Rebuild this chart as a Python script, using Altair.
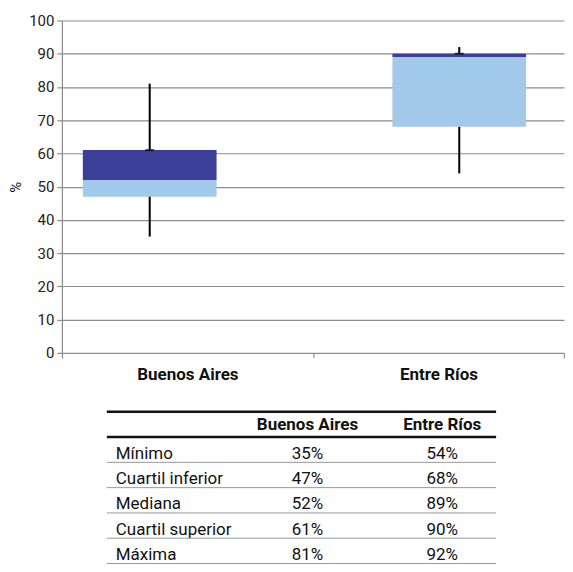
import altair as alt
import pandas as pd

# ---- data ----
categories = ["Buenos Aires", "Entre Ríos"]
stat_labels = ["Mínimo", "Cuartil inferior", "Mediana", "Cuartil superior", "Máxima"]
buenos_aires = [35, 47, 52, 61, 81]
entre_rios = [54, 68, 89, 90, 92]
y_ticks = list(range(0, 101, 10))

FONT = "Roboto, sans-serif"
DARK = "#3b3f98"
LIGHT = "#a2c8ea"
GRID = "#8c8c8c"

vals = [buenos_aires, entre_rios]
box_df = pd.DataFrame({
    "cat": categories,
    "mn": [v[0] for v in vals],
    "q1": [v[1] for v in vals],
    "med": [v[2] for v in vals],
    "q3": [v[3] for v in vals],
    "mx": [v[4] for v in vals],
})

box_x = alt.X("cat:N", scale=alt.Scale(domain=categories, paddingInner=0.568,
                                        paddingOuter=0.095, align=0.356), axis=None)
y_scale = alt.Scale(domain=[0, 100], nice=False)
y_axis = alt.Axis(values=y_ticks, title="%", grid=True, gridColor=GRID, gridWidth=1.2,
                  domainColor=GRID, domainWidth=1.2, tickColor=GRID, tickSize=5, tickWidth=1.2,
                  labelFont=FONT, labelFontSize=15, labelColor="#222", labelPadding=3,
                  labelOverlap=False,
                  titleFont=FONT, titleFontSize=15, titleFontWeight="normal", titleColor="#111",
                  titlePadding=5)


def yenc(field):
    return alt.Y(field, scale=y_scale, axis=y_axis)


base = alt.Chart(box_df)

axis_layer = base.mark_point(opacity=0).encode(
    x=alt.X("cat:N", scale=alt.Scale(domain=categories, paddingInner=0, paddingOuter=0),
            axis=alt.Axis(orient="bottom", title=None, labelAngle=0, tickBand="extent",
                          domain=False, tickColor=GRID, tickSize=5, tickWidth=1.2,
                          labelFont=FONT, labelFontSize=17, labelFontWeight="bold",
                          labelColor="#111", labelPadding=9)),
    y=yenc("med:Q"),
)

lower_box = base.mark_bar(color=LIGHT).encode(x=box_x, y=yenc("q1:Q"), y2="med:Q")
upper_box = base.mark_bar(color=DARK).encode(x=box_x, y=yenc("med:Q"), y2="q3:Q")
low_whisker = base.mark_rule(color="black", strokeWidth=2).encode(
    x=box_x, y=yenc("mn:Q"), y2="q1:Q")
high_whisker = base.mark_rule(color="black", strokeWidth=2).encode(
    x=box_x, y=yenc("q3:Q"), y2="mx:Q")
cap = base.mark_tick(color="black", orient="horizontal", size=9, thickness=2).encode(
    x=box_x, y=yenc("q3:Q"))

chart = alt.layer(axis_layer, lower_box, upper_box, low_whisker, high_whisker, cap).resolve_scale(
    x="independent").properties(width=503, height=333)

# ---- table ----
rows = ["hdr"] + stat_labels
cell_records = []
for c in categories:
    cell_records.append({"row": "hdr", "col": c, "text": c, "kind": "head"})
for i, lab in enumerate(stat_labels):
    cell_records.append({"row": lab, "col": "label", "text": lab, "kind": "label"})
    cell_records.append({"row": lab, "col": categories[0], "text": f"{buenos_aires[i]}%", "kind": "value"})
    cell_records.append({"row": lab, "col": categories[1], "text": f"{entre_rios[i]}%", "kind": "value"})
cells = pd.DataFrame(cell_records)

row_scale = alt.Scale(domain=rows, paddingInner=0, paddingOuter=0)
ty = alt.Y("row:N", scale=row_scale, axis=None)
col_x = alt.X("col:N", scale=alt.Scale(domain=categories, range=[246, 381], padding=0), axis=None)

tbase = alt.Chart(cells)
label_text = tbase.transform_filter("datum.kind == 'label'").mark_text(
    align="left", baseline="middle", dy=4, font=FONT, fontSize=17, color="#111").encode(
    x=alt.value(54), y=ty, text="text:N")
value_text = tbase.transform_filter("datum.kind == 'value'").mark_text(
    align="center", baseline="middle", dy=4, font=FONT, fontSize=17, color="#111").encode(
    x=col_x, y=ty, text="text:N")
head_text = tbase.transform_filter("datum.kind == 'head'").mark_text(
    align="center", baseline="middle", dy=1, font=FONT, fontSize=17, fontWeight="bold",
    color="#111").encode(x=col_x, y=ty, text="text:N")

line_df = pd.DataFrame({"row": rows})
top_line = alt.Chart(line_df).transform_filter("datum.row == 'hdr'").mark_rule(
    color="#111", strokeWidth=2.5).encode(
    y=alt.Y("row:N", scale=row_scale, axis=None, bandPosition=0),
    x=alt.value(45), x2=alt.value(435))
head_line = alt.Chart(line_df).transform_filter("datum.row == 'hdr'").mark_rule(
    color="#111", strokeWidth=2.5).encode(
    y=alt.Y("row:N", scale=row_scale, axis=None, bandPosition=1),
    x=alt.value(45), x2=alt.value(435))
row_lines = alt.Chart(line_df).transform_filter("datum.row != 'hdr'").mark_rule(
    color="#999", strokeWidth=1).encode(
    y=alt.Y("row:N", scale=row_scale, axis=None, bandPosition=1),
    x=alt.value(45), x2=alt.value(435))

table = alt.layer(top_line, head_line, row_lines, label_text, value_text, head_text).properties(
    width=503, height=152)

final = alt.vconcat(chart, table, spacing=27).properties(
    padding={"left": 0, "top": 5, "right": 0, "bottom": 0},
    background="white",
).configure_view(stroke="transparent", strokeWidth=0)

final.save("out.html", embed_options={"renderer": "svg", "actions": False})
